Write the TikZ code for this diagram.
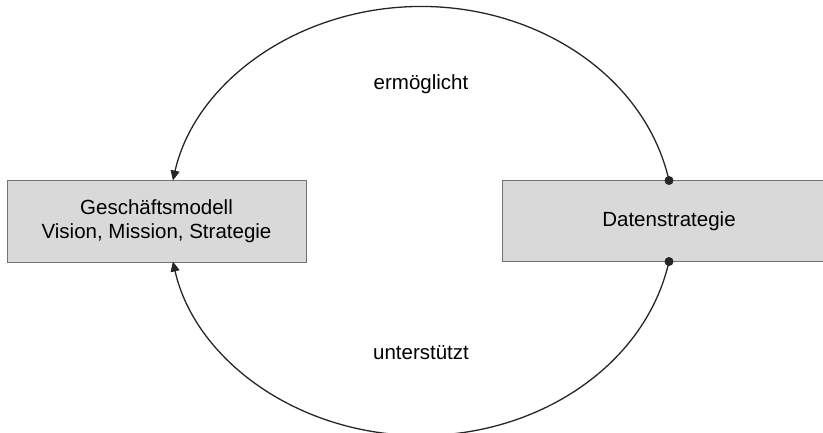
\documentclass[tikz,border=0pt]{standalone}
\usepackage{fontspec}
\setmainfont{Liberation Sans}
\usetikzlibrary{arrows.meta}
\begin{document}
\begin{tikzpicture}[x=1pt,y=1pt,
  box/.style={draw=black!55, line width=1pt, fill=black!15, inner sep=0pt,
    font=\fontsize{20.5}{24}\selectfont, text=black, align=center},
  conn/.style={draw=black!85, line width=1.3pt},
  tip/.style={-{Triangle[length=10pt,width=9pt]}},
  lbl/.style={font=\fontsize{20.5}{24}\selectfont, text=black},
  dot/.style={circle, fill=black!85, inner sep=0pt, minimum size=9pt}]
\useasboundingbox (0,0) rectangle (823,432);

% the two boxes
\node[box, minimum width=299pt, minimum height=81pt] (gm) at (156.5,210.5)
  {Geschäftsmodell\\Vision, Mission, Strategie};
\node[box, minimum width=334pt, minimum height=80pt] (ds) at (669,211)
  {Datenstrategie};

% elliptic connectors between the boxes
\draw[conn, tip]
  (ds.north) arc[start angle=10.88, end angle=169.12, x radius=252.6, y radius=214.5];
\draw[conn, tip]
  (ds.south) arc[start angle=-10.88, end angle=-169.12, x radius=252.6, y radius=214.5];
\node[dot] (d1) at (ds.north) {};
\node[dot] (d2) at (ds.south) {};

% labels
\node[lbl] (l1) at (421,348) {ermöglicht};
\node[lbl] (l2) at (421,79) {unterstützt};
\end{tikzpicture}
\end{document}
